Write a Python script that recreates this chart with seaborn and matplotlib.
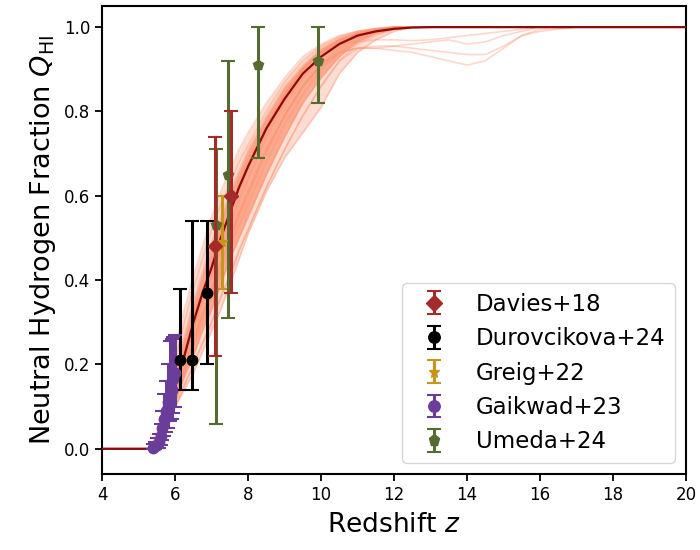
import numpy as np
import pandas as pd
import matplotlib
matplotlib.use("Agg")
import matplotlib.pyplot as plt
import seaborn as sns

# ---------------- data ----------------
z_grid = [4.0, 5.0, 5.3, 5.5, 5.75, 6.0, 6.25, 6.5, 6.75, 7.0, 7.25, 7.5, 7.75, 8.0,
          8.5, 9.0, 9.5, 10.0, 10.5, 11.0, 11.5, 12.0, 12.5, 13.0, 13.5, 14.0,
          14.5, 15.0, 15.5, 16.0, 17.0, 20.0]

model_median = [0, 0, 0, 0.01, 0.07, 0.15, 0.22, 0.30, 0.37, 0.43, 0.50, 0.56, 0.62, 0.67,
                0.76, 0.83, 0.89, 0.93, 0.96, 0.98, 0.99, 0.996, 0.999, 1, 1, 1,
                1, 1, 1, 1, 1, 1]

ensemble_curves = [
    [0, 0, 0, 0.04, 0.13, 0.24, 0.33, 0.41, 0.48, 0.55, 0.61, 0.66, 0.71, 0.75,
     0.82, 0.88, 0.93, 0.96, 0.98, 0.99, 0.997, 1, 1, 1, 1, 1, 1, 1, 1, 1, 1, 1],
    [0, 0, 0, 0.03, 0.11, 0.21, 0.30, 0.38, 0.45, 0.52, 0.58, 0.63, 0.68, 0.72,
     0.80, 0.87, 0.92, 0.955, 0.978, 0.99, 0.996, 1, 1, 1, 1, 1, 1, 1, 1, 1, 1, 1],
    [0, 0, 0, 0.02, 0.10, 0.19, 0.27, 0.35, 0.42, 0.49, 0.55, 0.61, 0.66, 0.71,
     0.79, 0.86, 0.91, 0.95, 0.975, 0.99, 0.996, 1, 1, 1, 1, 1, 1, 1, 1, 1, 1, 1],
    [0, 0, 0, 0.02, 0.09, 0.17, 0.25, 0.32, 0.40, 0.46, 0.53, 0.59, 0.64, 0.69,
     0.78, 0.85, 0.905, 0.945, 0.97, 0.985, 0.995, 1, 1, 1, 1, 1, 1, 1, 1, 1, 1, 1],
    [0, 0, 0, 0.01, 0.08, 0.16, 0.23, 0.30, 0.37, 0.44, 0.50, 0.56, 0.62, 0.67,
     0.76, 0.84, 0.90, 0.94, 0.97, 0.985, 0.995, 1, 1, 1, 1, 1, 1, 1, 1, 1, 1, 1],
    [0, 0, 0, 0.01, 0.07, 0.14, 0.21, 0.28, 0.35, 0.41, 0.47, 0.53, 0.59, 0.64,
     0.74, 0.82, 0.88, 0.93, 0.96, 0.98, 0.99, 1, 1, 1, 1, 1, 1, 1, 1, 1, 1, 1],
    [0, 0, 0, 0.01, 0.06, 0.13, 0.19, 0.26, 0.32, 0.38, 0.44, 0.50, 0.56, 0.61,
     0.71, 0.79, 0.86, 0.91, 0.95, 0.975, 0.99, 1, 1, 1, 1, 1, 1, 1, 1, 1, 1, 1],
    [0, 0, 0, 0.0, 0.05, 0.12, 0.18, 0.24, 0.30, 0.36, 0.42, 0.48, 0.53, 0.58,
     0.68, 0.77, 0.84, 0.90, 0.94, 0.97, 0.985, 0.995, 1, 1, 1, 1, 1, 1, 1, 1, 1, 1],
    [0, 0, 0, 0.0, 0.05, 0.11, 0.17, 0.22, 0.28, 0.33, 0.39, 0.45, 0.50, 0.55,
     0.65, 0.74, 0.82, 0.88, 0.93, 0.965, 0.985, 0.995, 1, 1, 1, 1, 1, 1, 1, 1, 1, 1],
    [0, 0, 0, 0.0, 0.04, 0.10, 0.15, 0.20, 0.25, 0.30, 0.36, 0.41, 0.47, 0.52,
     0.62, 0.71, 0.79, 0.86, 0.92, 0.96, 0.98, 0.995, 1, 1, 1, 1, 1, 1, 1, 1, 1, 1],
    [0, 0, 0, 0.0, 0.04, 0.10, 0.14, 0.18, 0.23, 0.28, 0.33, 0.39, 0.45, 0.51,
     0.61, 0.69, 0.75, 0.81, 0.89, 0.94, 0.97, 0.99, 1, 1, 1, 1, 1, 1, 1, 1, 1, 1],
    [0, 0, 0, 0.01, 0.07, 0.15, 0.23, 0.31, 0.38, 0.44, 0.51, 0.57, 0.63, 0.68,
     0.77, 0.84, 0.90, 0.94, 0.965, 0.985, 0.995, 1, 1, 1, 1, 1, 1, 1, 1, 1, 1, 1],
    [0, 0, 0, 0.02, 0.08, 0.15, 0.21, 0.29, 0.36, 0.42, 0.48, 0.55, 0.61, 0.66,
     0.75, 0.83, 0.89, 0.935, 0.965, 0.985, 0.995, 1, 1, 1, 1, 1, 1, 1, 1, 1, 1, 1],
    # curves with a late-time dip
    [0, 0, 0, 0.0, 0.05, 0.12, 0.18, 0.25, 0.31, 0.37, 0.43, 0.49, 0.55, 0.60,
     0.70, 0.79, 0.86, 0.91, 0.94, 0.95, 0.95, 0.945, 0.94, 0.93, 0.92, 0.91,
     0.92, 0.95, 0.98, 0.995, 1, 1],
    [0, 0, 0, 0.01, 0.06, 0.13, 0.19, 0.26, 0.32, 0.38, 0.44, 0.50, 0.56, 0.61,
     0.71, 0.79, 0.86, 0.91, 0.94, 0.95, 0.955, 0.955, 0.95, 0.945, 0.94, 0.935,
     0.935, 0.955, 0.98, 0.99, 1, 1],
    [0, 0, 0, 0.01, 0.08, 0.16, 0.23, 0.30, 0.37, 0.44, 0.50, 0.56, 0.62, 0.67,
     0.76, 0.84, 0.90, 0.94, 0.96, 0.965, 0.97, 0.97, 0.968, 0.97, 0.975, 0.98,
     0.985, 0.99, 0.995, 1, 1, 1],
    [0, 0, 0, 0.0, 0.04, 0.10, 0.15, 0.20, 0.25, 0.30, 0.36, 0.41, 0.47, 0.52,
     0.62, 0.71, 0.79, 0.86, 0.92, 0.95, 0.95, 0.955, 0.96, 0.965, 0.97, 0.96,
     0.965, 0.98, 0.99, 1, 1, 1],
]

davies_z = [7.09, 7.54]
davies_q = [0.48, 0.60]
davies_lo = [0.26, 0.23]
davies_hi = [0.26, 0.20]

durov_z = [6.13, 6.47, 6.87]
durov_q = [0.21, 0.21, 0.37]
durov_lo = [0.07, 0.07, 0.17]
durov_hi = [0.17, 0.33, 0.17]

greig_z = [7.29]
greig_q = [0.49]
greig_lo = [0.11]
greig_hi = [0.11]

gaik_z = [5.40, 5.45, 5.50, 5.55, 5.60, 5.65, 5.70, 5.75, 5.80, 5.85, 5.90, 5.95, 6.00]
gaik_q = [0.003, 0.006, 0.010, 0.015, 0.030, 0.050, 0.070, 0.090, 0.110, 0.125, 0.140, 0.165, 0.180]
gaik_lo = [0.003, 0.006, 0.008, 0.012, 0.020, 0.030, 0.040, 0.050, 0.060, 0.060, 0.070, 0.080, 0.080]
gaik_hi = [0.008, 0.010, 0.015, 0.020, 0.030, 0.040, 0.060, 0.070, 0.090, 0.130, 0.120, 0.100, 0.090]

umeda_z = [7.12, 7.44, 8.28, 9.91]
umeda_q = [0.53, 0.65, 0.91, 0.92]
umeda_lo = [0.47, 0.34, 0.22, 0.10]
umeda_hi = [0.18, 0.27, 0.09, 0.08]

x_ticks = [4, 6, 8, 10, 12, 14, 16, 18, 20]
y_ticks = [0.0, 0.2, 0.4, 0.6, 0.8, 1.0]

# ---------------- style ----------------
sns.set_style("ticks")
plt.rcParams["font.family"] = ["DejaVu Sans"]
plt.rcParams["axes.edgecolor"] = "black"
plt.rcParams["axes.linewidth"] = 1.5
plt.rcParams["xtick.color"] = "black"
plt.rcParams["ytick.color"] = "black"
plt.rcParams["text.color"] = "black"
plt.rcParams["axes.labelcolor"] = "black"

fig = plt.figure(figsize=(7.0, 5.5), dpi=100)
ax = fig.add_axes([0.146, 0.138, 0.834, 0.851])

ens_color = "#fb8f6c"

rows = []
for i, curve in enumerate(ensemble_curves):
    for zz, qq in zip(z_grid, curve):
        rows.append({"z": zz, "Q": qq, "curve": i})
df_ens = pd.DataFrame(rows)

outer_hi = np.array(ensemble_curves[0])
outer_lo = np.array(ensemble_curves[10])
core_hi = np.array(ensemble_curves[2])
core_lo = np.array(ensemble_curves[8])
ax.fill_between(z_grid, outer_lo, outer_hi, color=ens_color, alpha=0.3, lw=0, zorder=1)
ax.fill_between(z_grid, core_lo, core_hi, color=ens_color, alpha=0.65, lw=0, zorder=1)

sns.lineplot(data=df_ens, x="z", y="Q", units="curve", estimator=None,
             color=ens_color, alpha=0.35, lw=1.2, ax=ax, legend=False, zorder=2)

sns.lineplot(x=z_grid, y=model_median, color="#8b0a0a", lw=1.6, ax=ax, zorder=3)

err_kw = dict(ms=7.5, elinewidth=2.2, capsize=5, capthick=1.5, ls="none")
ax.errorbar(davies_z, davies_q, yerr=[davies_lo, davies_hi], fmt="D",
            color="#a52a2a", label="Davies+18", zorder=6, **err_kw)
ax.errorbar(durov_z, durov_q, yerr=[durov_lo, durov_hi], fmt="o",
            color="black", label="Durovcikova+24", zorder=5, **err_kw)
ax.errorbar(greig_z, greig_q, yerr=[greig_lo, greig_hi], fmt="*",
            color="#c8941a", label="Greig+22", zorder=5, **err_kw)
ax.errorbar(gaik_z, gaik_q, yerr=[gaik_lo, gaik_hi], fmt="o",
            color="#6a3d9a", label="Gaikwad+23", zorder=5, **err_kw)
ax.errorbar(umeda_z, umeda_q, yerr=[umeda_lo, umeda_hi], fmt="p",
            color="#556b2f", label="Umeda+24", zorder=5, **err_kw)

ax.set_xlim(4, 20)
ax.set_ylim(-0.06, 1.05)
ax.set_xticks(x_ticks)
ax.set_yticks(y_ticks)
ax.set_yticklabels([f"{t:.1f}" for t in y_ticks])
ax.tick_params(axis="both", direction="out", length=5, width=1.3, labelsize=12)
ax.set_xlabel(r"Redshift $z$", fontsize=19, labelpad=6)
ax.set_ylabel(r"Neutral Hydrogen Fraction $Q_{\rm HI}$", fontsize=19.5)

leg = ax.legend(loc="lower right", fontsize=16.5, frameon=True, fancybox=True,
                framealpha=0.8, edgecolor="0.8", labelspacing=0.5,
                markerscale=1.1)

fig.savefig("out.png", dpi=100)
